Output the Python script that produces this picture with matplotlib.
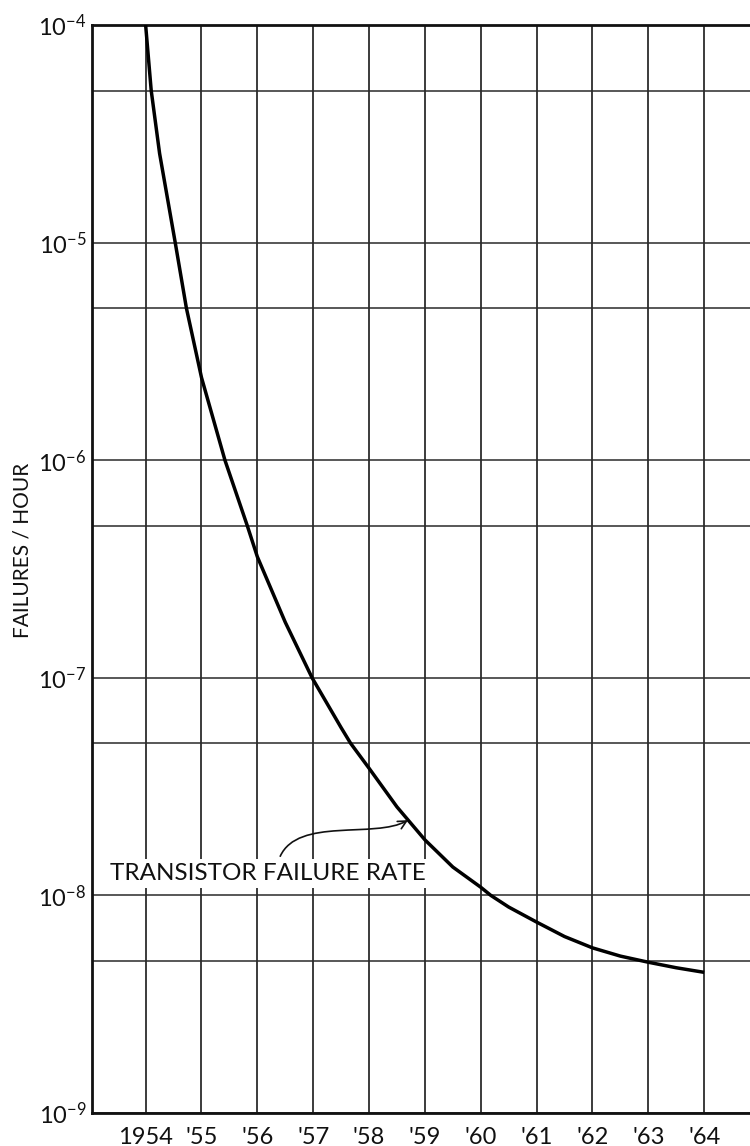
import numpy as np
import matplotlib
matplotlib.use("Agg")
import matplotlib.pyplot as plt
from matplotlib.path import Path
from matplotlib.patches import FancyArrowPatch

plt.rcParams['font.family'] = ['Lato', 'DejaVu Sans']

# ---- data ----
years = [1954.00, 1954.10, 1954.25, 1954.53, 1954.73, 1955.00, 1955.42, 1955.82,
         1956.00, 1956.50, 1956.98, 1957.50, 1957.67, 1958.00, 1958.50, 1959.00,
         1959.50, 1960.00, 1960.18, 1960.50, 1961.00, 1961.50, 1962.00, 1962.50,
         1963.00, 1963.50, 1964.00]
failure_rate = [1.0e-4, 5.0e-5, 2.57e-5, 1.0e-5, 5.0e-6, 2.4e-6, 1.0e-6, 5.0e-7,
                3.6e-7, 1.8e-7, 1.0e-7, 5.9e-8, 5.0e-8, 3.84e-8, 2.55e-8, 1.8e-8,
                1.35e-8, 1.09e-8, 1.0e-8, 8.84e-9, 7.54e-9, 6.47e-9, 5.74e-9, 5.26e-9,
                4.93e-9, 4.65e-9, 4.43e-9]

tick_years = list(range(1954, 1965))
tick_year_labels = ["1954", "'55", "'56", "'57", "'58", "'59", "'60", "'61", "'62", "'63", "'64"]
decades = [1e-9, 1e-8, 1e-7, 1e-6, 1e-5, 1e-4]
decade_labels = [r"$\mathregular{10^{-9}}$", r"$\mathregular{10^{-8}}$", r"$\mathregular{10^{-7}}$",
                 r"$\mathregular{10^{-6}}$", r"$\mathregular{10^{-5}}$", r"$\mathregular{10^{-4}}$"]
half_decades = [5e-9, 5e-8, 5e-7, 5e-6, 5e-5]

W, H = 750, 1146
fig = plt.figure(figsize=(W / 100, H / 100), dpi=100)
left, right, top, bottom = 92, 750, 25, 1113
ax = fig.add_axes([left / W, 1 - bottom / H, (right - left) / W, (bottom - top) / H])

ax.set_yscale('log')
ax.set_xlim(1953.04, 1964.82)
ax.set_ylim(1e-9, 1e-4)

for yr in tick_years:
    ax.axvline(yr, color='#1a1a1a', lw=1.2, zorder=1)
for v in decades + half_decades:
    ax.axhline(v, color='#2a2a2a', lw=1.1, zorder=1)

ax.plot(years, failure_rate, color='black', lw=2.5, zorder=3,
        solid_capstyle='butt', solid_joinstyle='round')

ax.set_xticks(tick_years)
ax.set_xticklabels(tick_year_labels, fontsize=17)
ax.set_yticks(decades)
ax.set_yticklabels(decade_labels, fontsize=17)
ax.yaxis.set_minor_locator(matplotlib.ticker.NullLocator())
ax.tick_params(axis='x', length=0, pad=10, colors='#111111')
ax.tick_params(axis='y', length=0, pad=4, colors='#111111')

for s in ['top', 'left', 'bottom']:
    ax.spines[s].set_linewidth(2.0)
    ax.spines[s].set_color('#111111')
ax.spines['right'].set_visible(False)

fig.text(23 / W, 1 - 550 / H, "FAILURES / HOUR", rotation=90, ha='center', va='center',
         fontsize=15, color='#111111')

# annotation
ax.text(1953.36, 10 ** -7.90, "TRANSISTOR FAILURE RATE", ha='left', va='center',
        fontsize=17.5, color='#111111', zorder=4,
        bbox=dict(facecolor='white', edgecolor='none', pad=3))
verts = [(1956.41, 10 ** -7.820), (1956.73, 10 ** -7.64),
         (1958.10, 10 ** -7.74), (1958.70, 10 ** -7.654)]
path = Path(verts, [Path.MOVETO, Path.CURVE4, Path.CURVE4, Path.CURVE4])
arrow = FancyArrowPatch(path=path, arrowstyle='->,head_length=6,head_width=3',
                        color='#111111', lw=1.2, zorder=5, transform=ax.transData)
ax.add_patch(arrow)

fig.savefig("out.png", dpi=100)
